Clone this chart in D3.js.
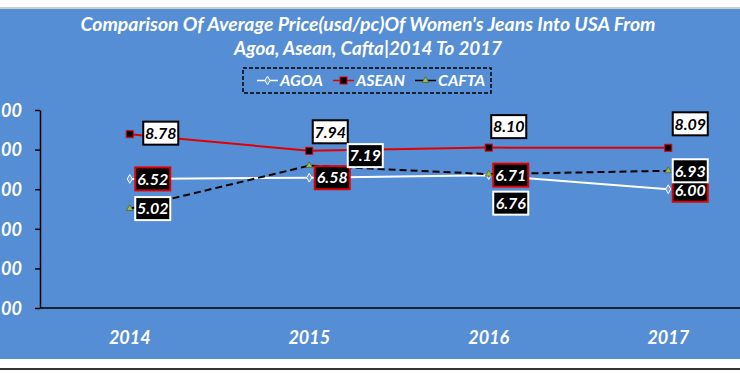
<!DOCTYPE html>
<meta charset="utf-8">
<head>
<script src="https://cdn.jsdelivr.net/npm/d3@7"></script>
<style>
  body { margin: 0; background: #fff; }
  svg text { font-family: Lato, "Open Sans", sans-serif; font-weight: bold; font-style: italic; }
</style>
</head>
<body>
<script>
// chart values
var years = ["2014", "2015", "2016", "2017"];
var agoa  = [6.52, 6.58, 6.71, 6.00];
var asean = [8.78, 7.94, 8.10, 8.09];
var cafta = [5.02, 7.19, 6.76, 6.93];
var yTicks = [0, 2, 4, 6, 8, 10];
var titleLines = ["Comparison Of Average Price(usd/pc)Of Women's Jeans  Into USA From",
                  "Agoa, Asean, Cafta|2014 To 2017"];

var w = 740, h = 373;
var svg = d3.select("body").append("svg").attr("width", w).attr("height", h);

// background frame
svg.append("rect").attr("x", 0).attr("y", 0).attr("width", w).attr("height", h).attr("fill", "#fff");
svg.append("line").attr("x1", 0).attr("x2", w).attr("y1", 8).attr("y2", 8).attr("stroke", "#bbb").attr("stroke-width", 1.5);
svg.append("rect").attr("x", 0).attr("y", 9).attr("width", w).attr("height", 350).attr("fill", "#558ed5");
svg.append("line").attr("x1", 0).attr("x2", w).attr("y1", 369).attr("y2", 369).attr("stroke", "#333").attr("stroke-width", 2);

// title (widths stretched to match the original Calibri run)
var titleWidths = [575, 268];
svg.append("g").selectAll("text").data(titleLines).enter().append("text")
    .attr("x", 368).attr("y", function(d, i) { return 31 + i * 24; })
    .attr("text-anchor", "middle").attr("fill", "#fff").attr("font-size", 18)
    .attr("textLength", function(d, i) { return titleWidths[i]; })
    .attr("lengthAdjust", "spacingAndGlyphs")
    .text(function(d) { return d; });

var x = d3.scaleBand().domain(years).range([40, 758]);
var y = d3.scaleLinear().domain([0, 10]).range([308, 110]);
var cx = function(d) { return x(d) + x.bandwidth() / 2; };

// axes
var yAxis = svg.append("g").attr("transform", "translate(40,0)")
    .call(d3.axisLeft(y).tickValues(yTicks).tickSize(5).tickSizeOuter(0).tickFormat(d3.format(".2f")));
yAxis.select(".domain").attr("stroke", "#000").attr("stroke-width", 1.5);
yAxis.selectAll(".tick line").attr("stroke", "#000").attr("stroke-width", 1.5);
yAxis.selectAll(".tick text").attr("fill", "#fff").attr("font-size", 18).attr("x", -18).attr("dy", "0.35em")
    .style("font-family", "Lato, sans-serif");

var xAxis = svg.append("g").attr("transform", "translate(0,308)")
    .call(d3.axisBottom(x).tickSize(0).tickSizeOuter(0));
xAxis.select(".domain").attr("stroke", "#000").attr("stroke-width", 1.5).attr("d", "M40,0H740");
xAxis.selectAll(".tick text").attr("fill", "#fff").attr("font-size", 18).attr("y", 36).attr("dy", 0)
    .style("font-family", "Lato, sans-serif");

var series = [
  {name: "AGOA",  values: agoa,  line: "#fff",    width: 2,   dash: null,  boxFill: "#000", boxStroke: "#e00000", text: "#fff"},
  {name: "ASEAN", values: asean, line: "#e00000", width: 2,   dash: null,  boxFill: "#fff", boxStroke: "#000",    text: "#000"},
  {name: "CAFTA", values: cafta, line: "#000",    width: 2,   dash: "7,4", boxFill: "#000", boxStroke: "#fff",    text: "#fff"}
];

// label offsets from the point (layout only)
var labelOffsets = {
  AGOA:  [[23, 0], [23, 0], [22, 0], [22, 1]],
  ASEAN: [[31, -1], [21, -19], [20, -21], [22, -24]],
  CAFTA: [[23, 0], [56, -10], [22, 29], [22, 0]]
};

var line = d3.line().x(function(d) { return cx(d.year); }).y(function(d) { return y(d.v); });

series.forEach(function(s) {
  var pts = years.map(function(yr, i) { return {year: yr, v: s.values[i]}; });
  s.pts = pts;
  svg.append("path").datum(pts).attr("d", line).attr("fill", "none")
      .attr("stroke", s.line).attr("stroke-width", s.width).attr("stroke-dasharray", s.dash);
});

function marker(g, name, px, py) {
  if (name === "AGOA") {
    g.append("path").attr("d", d3.symbol(d3.symbolDiamond, 22)()).attr("transform", "translate(" + px + "," + py + ")")
      .attr("fill", "#6f9fe0").attr("stroke", "#fff").attr("stroke-width", 1);
  } else if (name === "ASEAN") {
    g.append("rect").attr("x", px - 3.5).attr("y", py - 3.5).attr("width", 7).attr("height", 7)
      .attr("fill", "#000").attr("stroke", "#e00000").attr("stroke-width", 1);
  } else {
    g.append("path").attr("d", d3.symbol(d3.symbolTriangle, 20)()).attr("transform", "translate(" + px + "," + py + ")")
      .attr("fill", "#9bbb59").attr("stroke", "#4f6228").attr("stroke-width", 0.8);
  }
}

var marks = svg.append("g");
series.forEach(function(s) {
  s.pts.forEach(function(p) { marker(marks, s.name, cx(p.year), y(p.v)); });
});

// data labels: ASEAN, AGOA, CAFTA so CAFTA sits on top
var labels = svg.append("g");
[series[1], series[0], series[2]].forEach(function(s) {
  s.pts.forEach(function(p, i) {
    var off = labelOffsets[s.name][i];
    var lx = cx(p.year) + off[0], ly = y(p.v) + off[1];
    var g = labels.append("g").attr("transform", "translate(" + lx + "," + ly + ")");
    g.append("rect").attr("x", -17.5).attr("y", -11.5).attr("width", 35).attr("height", 23)
      .attr("fill", s.boxFill).attr("stroke", s.boxStroke).attr("stroke-width", 2);
    g.append("text").attr("text-anchor", "middle").attr("dy", "0.36em").attr("font-size", 16)
      .attr("fill", s.text).text(d3.format(".2f")(p.v));
  });
});

// legend
var leg = svg.append("g");
leg.append("rect").attr("x", 243).attr("y", 68).attr("width", 248).attr("height", 25)
  .attr("fill", "none").attr("stroke", "#000").attr("stroke-width", 1.5).attr("stroke-dasharray", "4,2");
var legX = [257, 333, 415];
series.forEach(function(s, i) {
  var lx = legX[i], ly = 80.5;
  leg.append("line").attr("x1", lx).attr("x2", lx + 21).attr("y1", ly).attr("y2", ly)
    .attr("stroke", s.line).attr("stroke-width", 1.5);
  marker(leg, s.name, lx + 10.5, ly);
  leg.append("text").attr("x", lx + 23).attr("y", ly).attr("dy", "0.36em").attr("font-size", 16)
    .attr("fill", "#fff").text(s.name);
});
</script>
</body>
</html>
